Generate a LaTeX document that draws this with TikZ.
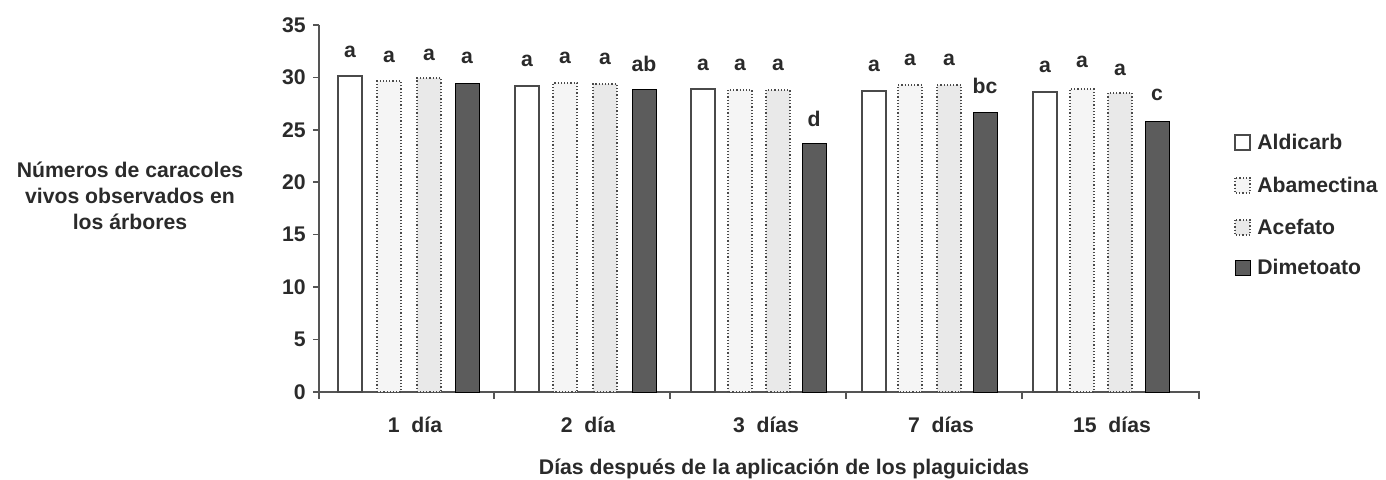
\documentclass[tikz,border=0pt]{standalone}
\usepackage{fontspec}
\setmainfont{Liberation Sans}
\usepackage{tikz}
\definecolor{inkgray}{HTML}{2a2a2a}
\definecolor{axisgray}{HTML}{555555}
\definecolor{edgegray}{HTML}{4a4a4a}
\definecolor{palegray}{HTML}{f5f5f5}
\definecolor{lightgray}{HTML}{e9e9e9}
\definecolor{darkgray}{HTML}{5c5c5c}

\begin{document}
\begin{tikzpicture}[x=0.5pt,y=0.5pt]
\tikzstyle{every node}+=[inner sep=0pt,text=inkgray,font=\fontsize{10.6}{13}\selectfont\bfseries]
\tikzstyle{aldicarb}=[fill=white,draw=edgegray,line width=0.6pt]
\tikzstyle{abamectina}=[fill=palegray,draw=edgegray,line width=0.6pt,densely dotted]
\tikzstyle{acefato}=[fill=lightgray,draw=edgegray,line width=0.6pt,densely dotted]
\tikzstyle{dimetoato}=[fill=darkgray]
\useasboundingbox (0,0) rectangle (1386,-479);
% axes
\draw [axisgray,line width=0.8pt] (319,-24.9) -- (319,-392) -- (1199,-392) -- (1199,-399);
\draw [axisgray,line width=0.8pt] (313,-24.9) -- (319,-24.9);
\draw [axisgray,line width=0.8pt] (313,-77.3) -- (319,-77.3);
\draw [axisgray,line width=0.8pt] (313,-129.7) -- (319,-129.7);
\draw [axisgray,line width=0.8pt] (313,-182.2) -- (319,-182.2);
\draw [axisgray,line width=0.8pt] (313,-234.6) -- (319,-234.6);
\draw [axisgray,line width=0.8pt] (313,-287.1) -- (319,-287.1);
\draw [axisgray,line width=0.8pt] (313,-339.5) -- (319,-339.5);
\draw [axisgray,line width=0.8pt] (313,-392) -- (319,-392);
\draw [axisgray,line width=0.8pt] (319,-392) -- (319,-399);
\draw [axisgray,line width=0.8pt] (494,-392) -- (494,-399);
\draw [axisgray,line width=0.8pt] (670,-392) -- (670,-399);
\draw [axisgray,line width=0.8pt] (846,-392) -- (846,-399);
\draw [axisgray,line width=0.8pt] (1022,-392) -- (1022,-399);
\draw (306,-24.9) node [left] (y35) {35};
\draw (306,-77.3) node [left] (y30) {30};
\draw (306,-129.7) node [left] (y25) {25};
\draw (306,-182.2) node [left] (y20) {20};
\draw (306,-234.6) node [left] (y15) {15};
\draw (306,-287.1) node [left] (y10) {10};
\draw (306,-339.5) node [left] (y5) {5};
\draw (306,-392) node [left] (y0) {0};
% 1 dia
\draw [aldicarb] (338,-392) rectangle (362,-76);
\draw [abamectina] (377,-392) rectangle (401,-81);
\draw [acefato] (417,-392) rectangle (441,-78);
\draw [dimetoato] (455,-392) rectangle (479,-83);
\draw (350,-52) node (g1a) {a};
\draw (389,-57) node (g1b) {a};
\draw (429,-55) node (g1c) {a};
\draw (467,-58) node (g1d) {a};
% 2 dias
\draw [aldicarb] (515,-392) rectangle (539,-86);
\draw [abamectina] (553,-392) rectangle (577,-83);
\draw [acefato] (593,-392) rectangle (617,-84);
\draw [dimetoato] (632,-392) rectangle (656,-89);
\draw (527,-61) node (g2a) {a};
\draw (565,-58) node (g2b) {a};
\draw (605,-59) node (g2c) {a};
\draw (644,-64) node (g2d) {ab};
% 3 dias
\draw [aldicarb] (691,-392) rectangle (715,-89);
\draw [abamectina] (728,-392) rectangle (752,-90);
\draw [acefato] (766,-392) rectangle (790,-90);
\draw [dimetoato] (802,-392) rectangle (826,-143);
\draw (703,-65) node (g3a) {a};
\draw (740,-65) node (g3b) {a};
\draw (778,-65) node (g3c) {a};
\draw (814,-119) node (g3d) {d};
% 7 dias
\draw [aldicarb] (862,-392) rectangle (886,-91);
\draw [abamectina] (898,-392) rectangle (922,-85);
\draw [acefato] (937,-392) rectangle (961,-85);
\draw [dimetoato] (973,-392) rectangle (997,-112);
\draw (874,-66) node (g4a) {a};
\draw (910,-60) node (g4b) {a};
\draw (949,-60) node (g4c) {a};
\draw (985,-86) node (g4d) {bc};
% 15 dias
\draw [aldicarb] (1033,-392) rectangle (1057,-92);
\draw [abamectina] (1070,-392) rectangle (1094,-89);
\draw [acefato] (1108,-392) rectangle (1132,-93);
\draw [dimetoato] (1145,-392) rectangle (1169,-121);
\draw (1045,-67) node (g5a) {a};
\draw (1082,-62) node (g5b) {a};
\draw (1120,-70) node (g5c) {a};
\draw (1157,-95) node (g5d) {c};
% etiquetas
\draw (415,-425) node (d1) {1\ \ día};
\draw (588,-425) node (d2) {2\ \ día};
\draw (766,-425) node (d3) {3\ \ días};
\draw (941,-425) node (d7) {7\ \ días};
\draw (1112,-425) node (d15) {15\ \ días};
\draw (784,-469) node (xlab) {Días después de la aplicación de los plaguicidas};
\draw (130,-196) node [align=center] (ylab) {Números de caracoles\\vivos observados en\\los árbores};
% leyenda
\draw [aldicarb] (1235,-135) rectangle (1250,-150);
\draw [abamectina] (1235,-178) rectangle (1250,-193);
\draw [acefato] (1235,-220) rectangle (1250,-235);
\draw [dimetoato] (1235,-260) rectangle (1250,-275);
\draw (1257,-142) node [right] (lg1) {Aldicarb};
\draw (1257,-185) node [right] (lg2) {Abamectina};
\draw (1257,-227) node [right] (lg3) {Acefato};
\draw (1257,-267) node [right] (lg4) {Dimetoato};
\end{tikzpicture}
\end{document}
